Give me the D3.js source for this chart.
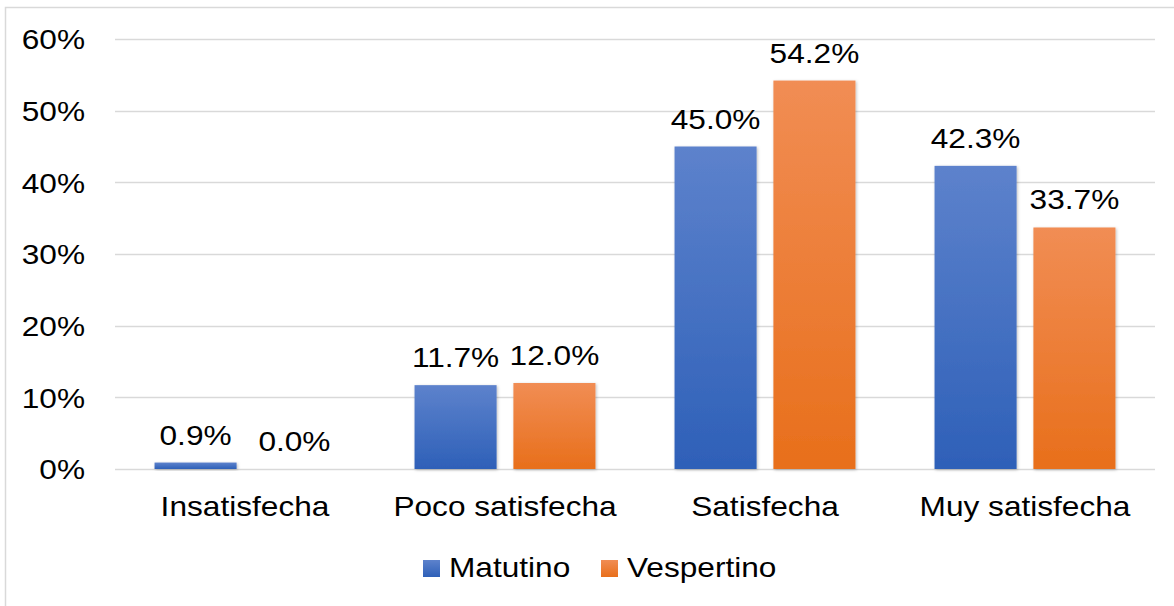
<!DOCTYPE html>
<html>
<head>
<meta charset="utf-8">
<script src="https://cdn.jsdelivr.net/npm/d3@7"></script>
<style>
  body { margin: 0; background: #fff; }
  svg { display: block; font-family: "Liberation Sans", Arial, sans-serif; }
</style>
</head>
<body>
<div id="chart"></div>
<script>
// satisfaction by shift, grouped bars
const categories = ['Insatisfecha', 'Poco satisfecha', 'Satisfecha', 'Muy satisfecha'];
const seriesNames = ['Matutino', 'Vespertino'];
const matutino = [0.9, 11.7, 45.0, 42.3];
const vespertino = [0.0, 12.0, 54.2, 33.7];
const yTicks = [0, 10, 20, 30, 40, 50, 60];

const W = 1174, H = 606;
const plot = { left: 115, right: 1155, top: 39, bottom: 469 };
const fontSize = 28;
const sx = 1.13; // the original text is a bit wider than Liberation Sans

const svg = d3.select('#chart').append('svg')
  .attr('width', W)
  .attr('height', H);

// gradients for the bars
const defs = svg.append('defs');
const grads = [
  { id: 'gBlue', top: '#5d82cc', bottom: '#2e60b8' },
  { id: 'gOrange', top: '#f18d54', bottom: '#e86f1b' }
];
grads.forEach(g => {
  const lg = defs.append('linearGradient')
    .attr('id', g.id).attr('x1', 0).attr('y1', 0).attr('x2', 0).attr('y2', 1);
  lg.append('stop').attr('offset', '0%').attr('stop-color', g.top);
  lg.append('stop').attr('offset', '100%').attr('stop-color', g.bottom);
});
const shadow = defs.append('filter').attr('id', 'shadow')
  .attr('x', '-10%').attr('y', '-10%').attr('width', '130%').attr('height', '130%');
shadow.append('feDropShadow')
  .attr('dx', 1).attr('dy', 1).attr('stdDeviation', 1.5)
  .attr('flood-color', '#000').attr('flood-opacity', 0.25);

// chart border
svg.append('rect')
  .attr('x', 5.5).attr('y', 7.5)
  .attr('width', W + 20).attr('height', H + 20)
  .attr('fill', 'none')
  .attr('stroke', '#d9d9d9')
  .attr('stroke-width', 1.5);

const x0 = d3.scaleBand()
  .domain(categories)
  .range([plot.left, plot.right])
  .padding(0);

const x1 = d3.scaleBand()
  .domain(seriesNames)
  .range([0, x0.bandwidth()])
  .paddingInner(0.17)
  .paddingOuter(0.4);

const y = d3.scaleLinear()
  .domain([0, 60])
  .range([plot.bottom, plot.top]);

// places a text at (x, y) stretched horizontally
function label(sel, x, yy) {
  return sel.attr('x', 0).attr('y', 0)
    .attr('transform', `translate(${x},${yy}) scale(${sx},1)`);
}

// gridlines
svg.append('g')
  .selectAll('line')
  .data(yTicks)
  .join('line')
  .attr('x1', plot.left)
  .attr('x2', plot.right)
  .attr('y1', d => Math.round(y(d)) + 0.5)
  .attr('y2', d => Math.round(y(d)) + 0.5)
  .attr('stroke', '#d9d9d9')
  .attr('stroke-width', 1.5);

// y axis labels
const yAxis = svg.append('g')
  .attr('transform', `translate(${plot.left - 30},0)`)
  .call(d3.axisLeft(y).tickValues(yTicks).tickSize(0).tickFormat(d => d + '%'));
yAxis.select('.domain').remove();
yAxis.selectAll('text')
  .attr('x', 0)
  .attr('dy', '0.35em')
  .attr('transform', `scale(${sx},1)`)
  .attr('font-size', fontSize)
  .attr('font-family', '"Liberation Sans", Arial, sans-serif')
  .attr('fill', '#000');

// x axis labels
const xAxis = svg.append('g')
  .attr('transform', `translate(0,${plot.bottom})`)
  .call(d3.axisBottom(x0).tickSize(0));
xAxis.select('.domain').remove();
xAxis.selectAll('text')
  .attr('y', 47)
  .attr('dy', 0)
  .attr('transform', `scale(${sx},1)`)
  .attr('font-size', fontSize)
  .attr('font-family', '"Liberation Sans", Arial, sans-serif')
  .attr('fill', '#000');

const series = [
  { name: seriesNames[0], values: matutino, fill: 'url(#gBlue)' },
  { name: seriesNames[1], values: vespertino, fill: 'url(#gOrange)' }
];

series.forEach(s => {
  const rows = categories.map((c, i) => ({ cat: c, v: s.values[i] }));
  svg.append('g')
    .selectAll('rect')
    .data(rows.filter(d => d.v > 0))
    .join('rect')
    .attr('x', d => x0(d.cat) + x1(s.name))
    .attr('y', d => y(d.v))
    .attr('width', x1.bandwidth())
    .attr('height', d => y(0) - y(d.v))
    .attr('fill', s.fill)
    .attr('filter', 'url(#shadow)');

  svg.append('g')
    .selectAll('text')
    .data(rows)
    .join('text')
    .each(function (d) {
      label(d3.select(this), x0(d.cat) + x1(s.name) + x1.bandwidth() / 2, y(d.v) - 18);
    })
    .attr('text-anchor', 'middle')
    .attr('font-size', fontSize)
    .attr('fill', '#000')
    .text(d => d.v.toFixed(1) + '%');
});

// legend
const legend = svg.append('g');
const legendX = [423, 601];
series.forEach((s, i) => {
  legend.append('rect')
    .attr('x', legendX[i])
    .attr('y', 560)
    .attr('width', 17)
    .attr('height', 17)
    .attr('fill', s.fill);
  legend.append('text')
    .call(label, legendX[i] + 26, 577)
    .attr('font-size', fontSize)
    .attr('fill', '#000')
    .text(s.name);
});
</script>
</body>
</html>
